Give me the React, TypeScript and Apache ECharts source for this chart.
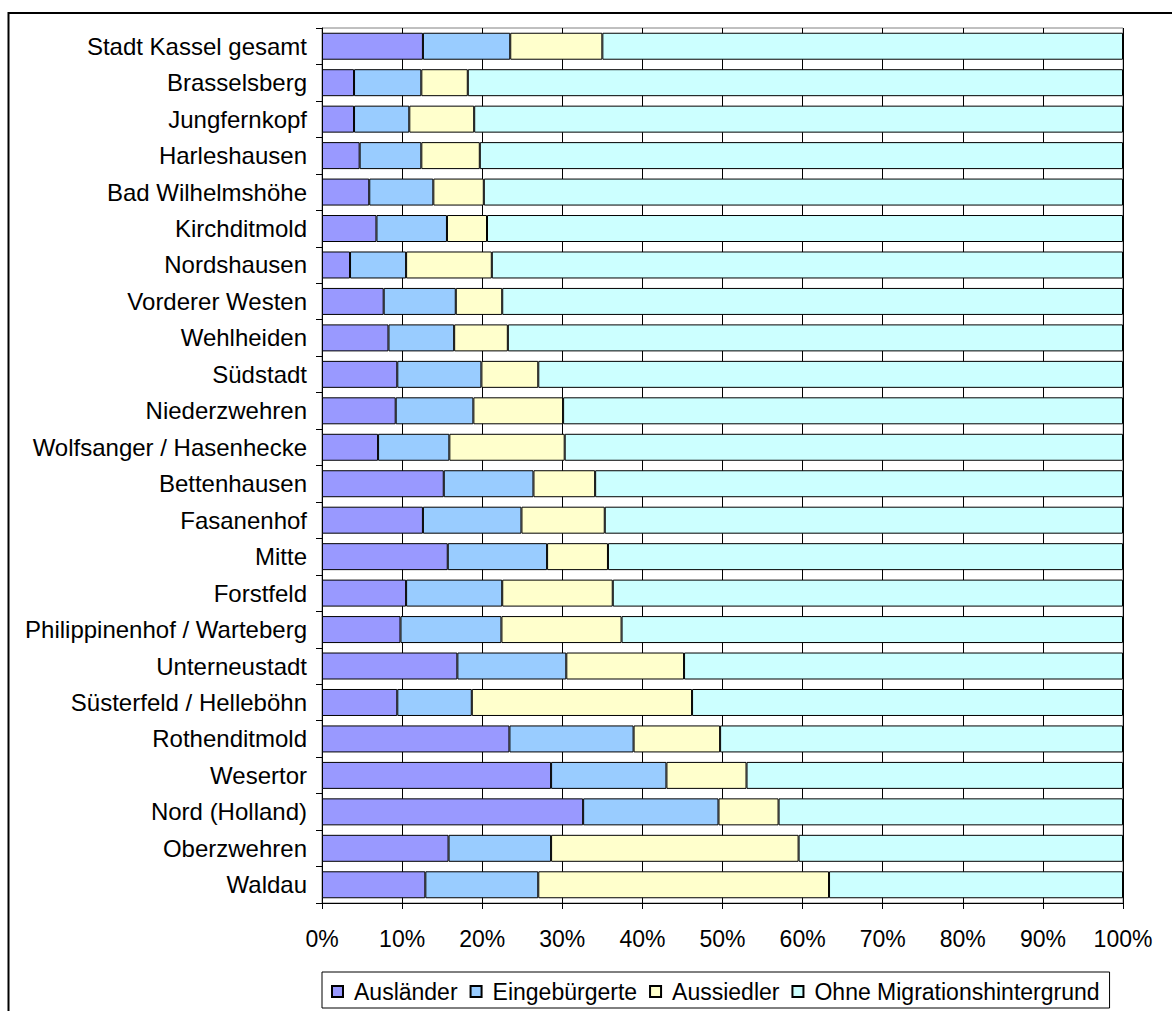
import React, { useEffect, useRef } from "react";
import * as echarts from "echarts";

const categories = [
  "Stadt Kassel gesamt",
  "Brasselsberg",
  "Jungfernkopf",
  "Harleshausen",
  "Bad Wilhelmshöhe",
  "Kirchditmold",
  "Nordshausen",
  "Vorderer Westen",
  "Wehlheiden",
  "Südstadt",
  "Niederzwehren",
  "Wolfsanger / Hasenhecke",
  "Bettenhausen",
  "Fasanenhof",
  "Mitte",
  "Forstfeld",
  "Philippinenhof / Warteberg",
  "Unterneustadt",
  "Süsterfeld / Helleböhn",
  "Rothenditmold",
  "Wesertor",
  "Nord (Holland)",
  "Oberzwehren",
  "Waldau",
];

const auslaender = [12.6, 4.0, 4.0, 4.7, 5.9, 6.8, 3.5, 7.7, 8.3, 9.4, 9.2, 7.0, 15.2, 12.6, 15.7, 10.5, 9.8, 16.9, 9.4, 23.4, 28.6, 32.6, 15.8, 12.9];
const eingebuergerte = [10.9, 8.4, 6.9, 7.7, 8.0, 8.8, 7.0, 9.0, 8.2, 10.5, 9.7, 8.9, 11.2, 12.3, 12.4, 12.0, 12.6, 13.6, 9.3, 15.5, 14.4, 16.9, 12.8, 14.1];
const aussiedler = [11.5, 5.8, 8.1, 7.3, 6.3, 5.0, 10.7, 5.8, 6.7, 7.1, 11.2, 14.4, 7.7, 10.4, 7.6, 13.8, 15.0, 14.7, 27.5, 10.8, 10.0, 7.5, 30.9, 36.3];
const ohneMigration = [65.0, 81.8, 81.0, 80.3, 79.8, 79.4, 78.8, 77.5, 76.8, 73.0, 69.9, 69.7, 65.9, 64.7, 64.3, 63.7, 62.6, 54.8, 53.8, 50.3, 47.0, 43.0, 40.5, 36.7];

const seriesNames = ["Ausländer", "Eingebürgerte", "Aussiedler", "Ohne Migrationshintergrund"];
const seriesColors = ["#9999FF", "#99CCFF", "#FFFFCC", "#CCFFFF"];
const seriesData = [auslaender, eingebuergerte, aussiedler, ohneMigration];

const xTicks = [0, 10, 20, 30, 40, 50, 60, 70, 80, 90, 100];

const FONT = "'Liberation Sans', Arial, sans-serif";

export default function App() {
  const ref = useRef<HTMLDivElement>(null);

  useEffect(() => {
    if (!ref.current) return;
    const chart = echarts.init(ref.current, null, { renderer: "svg" });
    chart.setOption({
      animation: false,
      backgroundColor: "#ffffff",
      textStyle: { fontFamily: FONT },
      graphic: [
        {
          type: "rect",
          shape: { x: 8.5, y: 13, width: 1300, height: 1200 },
          style: { fill: "none", stroke: "#000", lineWidth: 2 },
          silent: true,
          z: -1,
        },
      ],
      grid: {
        left: 322,
        right: 49,
        top: 28,
        bottom: 108,
        show: true,
        borderColor: "#808080",
        borderWidth: 1,
        backgroundColor: "#ffffff",
      },
      legend: {
        data: seriesNames,
        left: 322,
        top: 972,
        orient: "horizontal",
        itemWidth: 11,
        itemHeight: 11,
        itemGap: 12,
        icon: "rect",
        padding: [8, 10, 5, 9],
        borderColor: "#000",
        borderWidth: 1,
        textStyle: {
          fontFamily: FONT,
          fontSize: 23,
          color: "#000",
          padding: [0, 0, 0, 6],
        },
      },
      xAxis: {
        type: "value",
        min: xTicks[0],
        max: xTicks[xTicks.length - 1],
        interval: 10,
        axisLine: { show: true, lineStyle: { color: "#000", width: 1 } },
        axisTick: { show: true, length: 6, lineStyle: { color: "#000" } },
        axisLabel: {
          formatter: "{value}%",
          fontFamily: FONT,
          fontSize: 23,
          color: "#000",
          margin: 24,
        },
        splitLine: { show: true, lineStyle: { color: "#000", width: 1 } },
      },
      yAxis: {
        type: "category",
        inverse: true,
        data: categories,
        axisLine: { show: true, lineStyle: { color: "#000", width: 1 } },
        axisTick: { show: true, length: 6, lineStyle: { color: "#000" } },
        axisLabel: {
          fontFamily: FONT,
          fontSize: 24,
          color: "#000",
          margin: 15,
        },
        splitLine: { show: false },
      },
      series: seriesNames.map((name, i) => ({
        name,
        type: "bar",
        stack: "total",
        barWidth: "74%",
        data: seriesData[i],
        itemStyle: {
          color: seriesColors[i],
          borderColor: "#000",
          borderWidth: 1,
        },
        emphasis: { disabled: true },
      })),
    });
    return () => chart.dispose();
  }, []);

  return (
    <div
      ref={ref}
      style={{ position: "absolute", left: 0, top: 0, width: 1172, height: 1011 }}
    />
  );
}
